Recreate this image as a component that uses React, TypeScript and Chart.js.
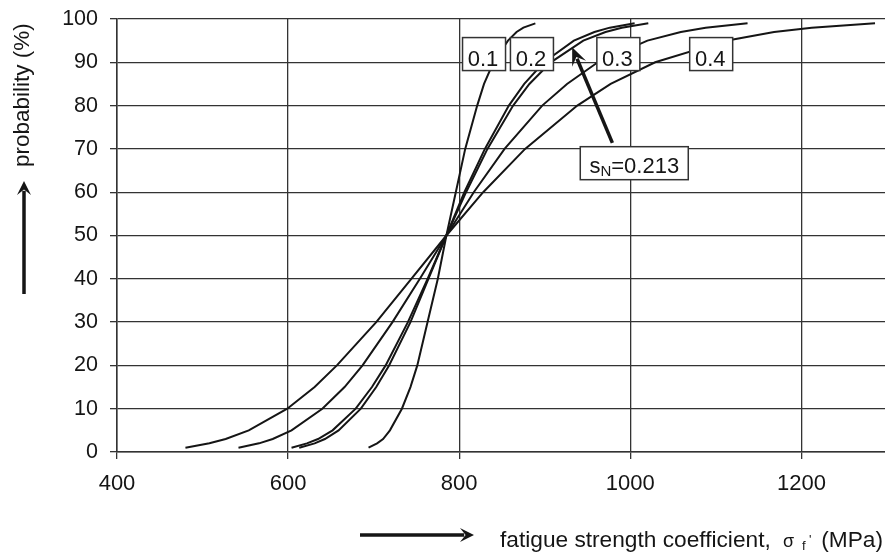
import React, { useEffect, useRef } from "react";
import { Chart, registerables } from "chart.js";

Chart.register(...registerables);

// ---------- data ----------
const probabilities = [1, 2, 3, 5, 10, 15, 20, 30, 40, 50, 60, 70, 80, 85, 90, 95, 97, 98, 99];
const sigma_s01 = [694, 704, 711, 719, 733, 743, 751, 763, 775, 785, 796, 807, 821, 829, 840, 857, 867, 875, 889];
const sigma_s02 = [613, 631, 643, 659, 685, 703, 718, 743, 764, 785, 806, 830, 858, 876, 899, 934, 958, 976, 1005];
const sigma_s0213 = [604, 622, 635, 652, 679, 698, 714, 740, 763, 785, 808, 833, 863, 882, 907, 945, 971, 990, 1021];
const sigma_s03 = [542, 566, 582, 604, 640, 666, 687, 722, 754, 785, 817, 853, 897, 926, 962, 1020, 1059, 1088, 1137];
const sigma_s04 = [480, 508, 527, 554, 599, 631, 657, 703, 744, 785, 828, 877, 938, 977, 1029, 1112, 1168, 1212, 1286];

const seriesNames = ["0.1", "0.2", "0.213", "0.3", "0.4"];
const seriesValues = [sigma_s01, sigma_s02, sigma_s0213, sigma_s03, sigma_s04];

const xTicks = [400, 600, 800, 1000, 1200];
const yTicks = [0, 10, 20, 30, 40, 50, 60, 70, 80, 90, 100];

// curve label boxes (data coordinates of box centres)
const curveLabelTexts = ["0.1", "0.2", "0.3", "0.4"];
const curveLabelX = [829, 885, 986, 1094.5];
const curveLabelY = [91.9, 91.9, 91.9, 91.9];

// s_N note (data coordinates)
const noteX = 1004.6;
const noteY = 66.7;
const noteArrowFrom = [979, 71.4];
const noteArrowTo = [932, 93.5];

const FONT = "'Liberation Sans', Arial, Helvetica, sans-serif";

function drawArrow(ctx: CanvasRenderingContext2D, x1: number, y1: number, x2: number, y2: number, lw: number, headLen: number, headHalf: number) {
  const ang = Math.atan2(y2 - y1, x2 - x1);
  const cos = Math.cos(ang), sin = Math.sin(ang);
  const bx = x2 - cos * headLen * 0.7;
  const by = y2 - sin * headLen * 0.7;
  ctx.beginPath();
  ctx.lineWidth = lw;
  ctx.lineCap = "butt";
  ctx.moveTo(x1, y1);
  ctx.lineTo(bx, by);
  ctx.stroke();
  const backX = x2 - cos * headLen;
  const backY = y2 - sin * headLen;
  ctx.beginPath();
  ctx.moveTo(x2, y2);
  ctx.lineTo(backX - sin * headHalf, backY + cos * headHalf);
  ctx.lineTo(x2 - cos * headLen * 0.6, y2 - sin * headLen * 0.6);
  ctx.lineTo(backX + sin * headHalf, backY - cos * headHalf);
  ctx.closePath();
  ctx.fill();
}

const decorPlugin = {
  id: "decor",
  afterDatasetsDraw(chart: any) {
    const { ctx, scales } = chart;
    const xs = scales.x, ys = scales.y;
    ctx.save();
    ctx.strokeStyle = "#151515";
    ctx.fillStyle = "#151515";
    drawArrow(
      ctx,
      xs.getPixelForValue(noteArrowFrom[0]), ys.getPixelForValue(noteArrowFrom[1]),
      xs.getPixelForValue(noteArrowTo[0]), ys.getPixelForValue(noteArrowTo[1]),
      3.5, 18, 7.5
    );
    ctx.font = `22px ${FONT}`;
    ctx.textAlign = "center";
    ctx.textBaseline = "alphabetic";
    for (let i = 0; i < curveLabelTexts.length; i++) {
      const cx = xs.getPixelForValue(curveLabelX[i]);
      const cy = ys.getPixelForValue(curveLabelY[i]);
      const w = 43, h = 33;
      ctx.fillStyle = "#ffffff";
      ctx.fillRect(cx - w / 2, cy - h / 2, w, h);
      ctx.lineWidth = 1.5;
      ctx.strokeStyle = "#333";
      ctx.strokeRect(cx - w / 2, cy - h / 2, w, h);
      ctx.fillStyle = "#151515";
      ctx.fillText(curveLabelTexts[i], cx - 1, cy + 12);
    }
    {
      const cx = xs.getPixelForValue(noteX);
      const cy = ys.getPixelForValue(noteY);
      const w = 108, h = 33;
      ctx.fillStyle = "#ffffff";
      ctx.fillRect(cx - w / 2, cy - h / 2, w, h);
      ctx.lineWidth = 1.5;
      ctx.strokeStyle = "#333";
      ctx.strokeRect(cx - w / 2, cy - h / 2, w, h);
      ctx.fillStyle = "#151515";
      ctx.textAlign = "left";
      ctx.font = `22px ${FONT}`;
      const w1 = ctx.measureText("s").width;
      const w3 = ctx.measureText("=0.213").width;
      ctx.font = `15px ${FONT}`;
      const w2 = ctx.measureText("N").width;
      const total = w1 + w2 + w3;
      let tx = cx - total / 2;
      const base = cy + 10;
      ctx.font = `22px ${FONT}`;
      ctx.fillText("s", tx, base);
      tx += w1;
      ctx.font = `15px ${FONT}`;
      ctx.fillText("N", tx, base + 3);
      tx += w2;
      ctx.font = `22px ${FONT}`;
      ctx.fillText("=0.213", tx, base);
    }
    ctx.restore();
  },
  afterDraw(chart: any) {
    const { ctx } = chart;
    ctx.save();
    ctx.fillStyle = "#151515";
    ctx.strokeStyle = "#151515";
    ctx.save();
    ctx.translate(29, 167);
    ctx.rotate(-Math.PI / 2);
    ctx.font = `22.5px ${FONT}`;
    ctx.textAlign = "left";
    ctx.textBaseline = "alphabetic";
    ctx.fillText("probability (%)", 0, 0);
    ctx.restore();
    drawArrow(ctx, 24, 294, 24, 181, 3.5, 14, 7);
    drawArrow(ctx, 360, 535, 474, 535, 3.5, 14, 7);
    const base = 547;
    ctx.textAlign = "left";
    ctx.textBaseline = "alphabetic";
    ctx.font = `22.7px ${FONT}`;
    ctx.fillText("fatigue strength coefficient,", 500, base);
    ctx.font = `18px ${FONT}`;
    ctx.fillText("σ", 783, base);
    ctx.font = `13px ${FONT}`;
    ctx.fillText("f", 802, base + 3);
    ctx.fillText("'", 809, base - 3);
    ctx.font = `22.7px ${FONT}`;
    ctx.textAlign = "right";
    ctx.fillText("(MPa)", 883, base);
    ctx.restore();
  },
};

export default function App() {
  const canvasRef = useRef<HTMLCanvasElement | null>(null);

  useEffect(() => {
    const canvas = canvasRef.current;
    if (!canvas) return;
    const datasets = seriesNames.map((name, i) => ({
      label: name,
      data: seriesValues[i].map((v, j) => ({ x: v, y: probabilities[j] })),
      borderColor: "#151515",
      backgroundColor: "#151515",
      borderWidth: 2,
      pointRadius: 0,
      tension: 0,
      fill: false,
      showLine: true,
    }));
    const chart = new Chart(canvas, {
      type: "scatter",
      data: { datasets },
      options: {
        animation: false,
        responsive: true,
        maintainAspectRatio: false,
        devicePixelRatio: 1,
        layout: { padding: { top: 19, right: 0, left: 0, bottom: 0 } },
        plugins: { legend: { display: false }, tooltip: { enabled: false }, title: { display: false } },
        scales: {
          x: {
            type: "linear",
            min: 400,
            max: 1300,
            afterBuildTicks: (s: any) => { s.ticks = xTicks.map((v) => ({ value: v })); },
            afterFit: (s: any) => { s.height = 100; s.paddingLeft = 0; s.paddingRight = 0; },
            grid: { color: "#333", lineWidth: 1.3, tickLength: 7, drawTicks: true },
            border: { color: "#333", width: 1.5 },
            ticks: { color: "#151515", font: { family: FONT, size: 22 }, padding: 12, maxRotation: 0, callback: (v: any) => String(v) },
          },
          y: {
            type: "linear",
            min: 0,
            max: 100,
            afterBuildTicks: (s: any) => { s.ticks = yTicks.map((v) => ({ value: v })); },
            afterFit: (s: any) => { s.width = 117; s.paddingTop = 0; s.paddingBottom = 0; },
            grid: { color: "#333", lineWidth: 1.3, tickLength: 7, drawTicks: true },
            border: { color: "#333", width: 1.5 },
            ticks: { color: "#151515", font: { family: FONT, size: 21.5 }, padding: 12, callback: (v: any) => String(v) },
          },
        },
      },
      plugins: [decorPlugin],
    });
    return () => chart.destroy();
  }, []);

  return (
    <div style={{ position: "fixed", left: 0, top: 0, width: 887, height: 552, background: "#fff" }}>
      <canvas ref={canvasRef} />
    </div>
  );
}
